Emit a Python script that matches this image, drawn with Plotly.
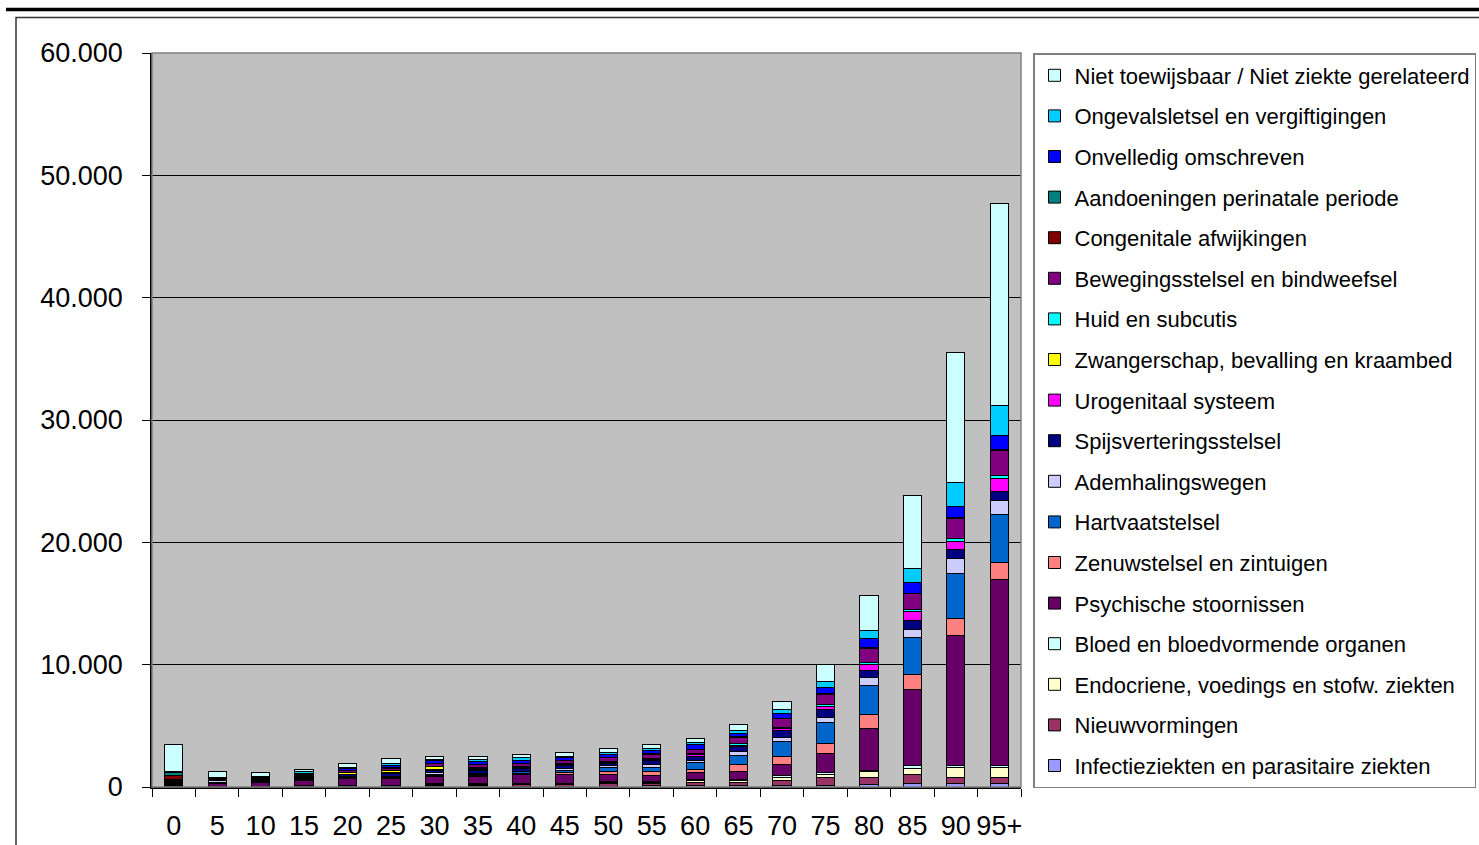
import plotly.graph_objects as go

# Age groups on the horizontal axis
ages = ["0", "5", "10", "15", "20", "25", "30", "35", "40", "45",
        "50", "55", "60", "65", "70", "75", "80", "85", "90", "95+"]

# One value per age group for each disease category (bottom of stack first)
infectie = [80, 20, 20, 30, 40, 50, 60, 60, 70, 70, 80, 100, 100, 100, 150, 160, 200, 270, 250, 250]
nieuwvormingen = [30, 20, 20, 20, 30, 40, 80, 100, 130, 150, 200, 220, 300, 300, 350, 600, 580, 770, 500, 500]
endocriene = [50, 20, 20, 30, 40, 50, 70, 70, 70, 60, 100, 80, 150, 150, 300, 300, 500, 500, 830, 830]
bloed = [30, 20, 20, 20, 20, 20, 40, 40, 30, 20, 60, 40, 50, 50, 150, 110, 80, 180, 140, 140]
psychische = [10, 220, 250, 440, 550, 500, 600, 550, 740, 760, 600, 540, 550, 700, 900, 1550, 3410, 6260, 10680, 15230]
zenuwstelsel = [80, 80, 80, 80, 80, 80, 120, 120, 100, 150, 250, 300, 300, 500, 650, 820, 1170, 1230, 1340, 1400]
hartvaat = [50, 20, 20, 30, 40, 50, 80, 100, 100, 150, 300, 300, 550, 800, 1250, 1720, 2370, 3000, 3750, 3910]
ademhaling = [150, 100, 80, 80, 80, 80, 120, 100, 60, 140, 150, 250, 200, 280, 280, 460, 680, 680, 1210, 1170]
spijsvertering = [60, 50, 50, 80, 120, 250, 200, 220, 200, 250, 200, 300, 280, 400, 550, 600, 550, 680, 700, 740]
urogenitaal = [30, 30, 30, 40, 50, 60, 100, 100, 100, 100, 100, 150, 150, 150, 200, 270, 490, 760, 630, 1010]
zwangerschap = [0, 0, 0, 20, 120, 160, 190, 80, 20, 0, 0, 0, 0, 0, 0, 0, 0, 0, 0, 0]
huid = [20, 30, 30, 30, 40, 40, 50, 50, 50, 60, 60, 80, 80, 100, 100, 120, 150, 150, 300, 250]
bewegingsstelsel = [10, 30, 50, 80, 100, 150, 200, 250, 220, 240, 300, 300, 350, 550, 700, 820, 1140, 1310, 1620, 2070]
congenitale = [330, 50, 40, 40, 40, 40, 30, 30, 30, 30, 30, 30, 30, 30, 30, 50, 40, 20, 60, 50]
perinataal = [240, 20, 60, 20, 10, 10, 10, 10, 10, 10, 10, 10, 10, 20, 20, 50, 30, 20, 60, 50]
onvolledig = [50, 50, 60, 100, 120, 200, 180, 200, 220, 200, 220, 280, 350, 220, 350, 540, 740, 870, 890, 1140]
ongevallen = [30, 50, 60, 100, 120, 120, 150, 150, 270, 140, 150, 180, 180, 250, 370, 490, 680, 1140, 1900, 2420]
niet_toewijsbaar = [2240, 440, 310, 230, 330, 390, 200, 250, 250, 300, 350, 350, 350, 520, 630, 1370, 2860, 6000, 10640, 16540]

series = [
    ("Infectieziekten en parasitaire ziekten", infectie, "#9999FF"),
    ("Nieuwvormingen", nieuwvormingen, "#993366"),
    ("Endocriene, voedings en stofw. ziekten", endocriene, "#FFFFCC"),
    ("Bloed en bloedvormende organen", bloed, "#CCFFFF"),
    ("Psychische stoornissen", psychische, "#660066"),
    ("Zenuwstelsel en zintuigen", zenuwstelsel, "#FF8080"),
    ("Hartvaatstelsel", hartvaat, "#0066CC"),
    ("Ademhalingswegen", ademhaling, "#CCCCFF"),
    ("Spijsverteringsstelsel", spijsvertering, "#000080"),
    ("Urogenitaal systeem", urogenitaal, "#FF00FF"),
    ("Zwangerschap, bevalling en kraambed", zwangerschap, "#FFFF00"),
    ("Huid en subcutis", huid, "#00FFFF"),
    ("Bewegingsstelsel en bindweefsel", bewegingsstelsel, "#800080"),
    ("Congenitale afwijkingen", congenitale, "#800000"),
    ("Aandoeningen perinatale periode", perinataal, "#008080"),
    ("Onvelledig omschreven", onvolledig, "#0000FF"),
    ("Ongevalsletsel en vergiftigingen", ongevallen, "#00CCFF"),
    ("Niet toewijsbaar / Niet ziekte gerelateerd", niet_toewijsbaar, "#CCFFFF"),
]

FONT = "Liberation Sans, Arial, sans-serif"

fig = go.Figure()
n = len(series)
for i, (name, vals, color) in enumerate(series):
    fig.add_trace(go.Bar(
        x=ages, y=vals, name=name, legendgroup=f"g{i}",
        legendrank=n - i,  # top of the stack is listed first
        marker=dict(color=color, line=dict(color="#000000", width=1)),
    ))

# Plot-area geometry in pixels, used to place frame lines in paper coordinates
FW, FH = 1479, 845
L, R, T, B = 152, 1021, 53, 787
W, H = R - L, B - T


def px(xpix):
    return (xpix - L) / W


def py(ypix):
    return (B - ypix) / H


shapes = [
    # heavy rule across the top of the page
    dict(type="line", xref="paper", yref="paper", x0=px(6), x1=px(1490),
         y0=py(9.5), y1=py(9.5), line=dict(color="#000000", width=3.5)),
    # chart-area frame
    dict(type="rect", xref="paper", yref="paper", x0=px(16), x1=px(1500),
         y0=py(900), y1=py(17.5), line=dict(color="#333333", width=1.5)),
    # plot-area frame
    dict(type="rect", xref="paper", yref="paper", x0=0, x1=1, y0=0, y1=1,
         line=dict(color="#808080", width=1.5), layer="above"),
]

fig.update_layout(
    width=FW, height=FH,
    margin=dict(l=L, r=FW - R, t=T, b=FH - B, autoexpand=False),
    paper_bgcolor="#FFFFFF", plot_bgcolor="#C0C0C0",
    barmode="stack", bargap=0.58,
    separators=",.",
    font=dict(family=FONT, size=27, color="#000000"),
    showlegend=True,
    legend=dict(
        xref="container", yref="container",
        x=1033 / FW, y=1 - 53 / FH, xanchor="left", yanchor="top",
        traceorder="grouped", tracegroupgap=9, maxheight=800,
        font=dict(family=FONT, size=22, color="#000000"),
        bgcolor="#FFFFFF", bordercolor="#808080", borderwidth=1.5,
    ),
    shapes=shapes,
)

fig.update_xaxes(
    type="category", tickson="boundaries", ticks="outside", ticklen=8,
    tickcolor="#000000", showline=True, linecolor="#000000", linewidth=1.5,
    showgrid=False, tickfont=dict(size=27), tickangle=0, ticklabelstandoff=14,
)
fig.update_yaxes(
    range=[0, 60000], dtick=10000, tickformat=",d", ticks="outside", ticklen=8,
    tickcolor="#000000", showline=True, linecolor="#000000", linewidth=1.5,
    showgrid=True, gridcolor="#000000", gridwidth=1, zeroline=False,
    tickfont=dict(size=27), ticklabelstandoff=14,
)

fig.write_html("out.html")
